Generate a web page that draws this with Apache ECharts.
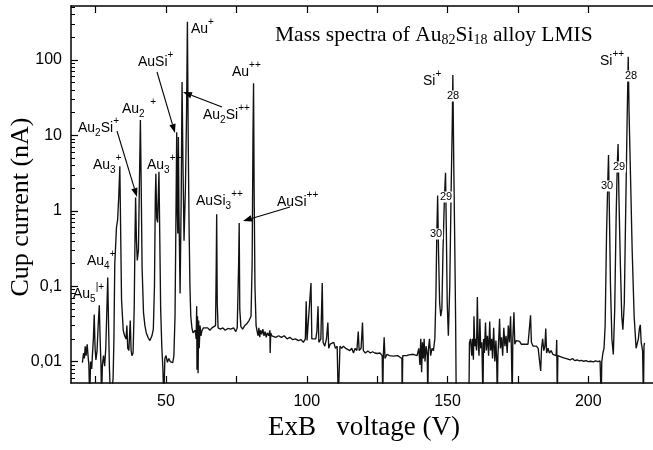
<!DOCTYPE html>
<html>
<head>
<meta charset="utf-8">
<script src="https://cdn.jsdelivr.net/npm/echarts@6/dist/echarts.min.js"></script>
<style>
  html, body { margin: 0; padding: 0; background: #fff; }
  #main { width: 653px; height: 450px; }
</style>
</head>
<body>
<div id="main"></div>
<script>
// ExB voltage (V) and cup current (nA)
const voltage = [
  20.3, 20.7, 21.0, 21.3, 21.6, 22.0, 22.3, 22.6, 22.9, 23.2,
  23.6, 23.9, 24.2, 24.5, 24.8, 25.1, 25.5, 25.9, 26.3, 26.6,
  26.9, 27.1, 27.4, 27.8, 28.2, 28.6, 29.0, 29.3, 29.6, 29.9,
  30.3, 30.8, 31.2, 31.5, 31.8, 32.1, 32.4, 32.8, 33.2, 33.6,
  33.9, 34.2, 34.8, 35.3, 35.8, 36.1, 36.4, 36.8, 37.3, 37.6,
  37.9, 38.3, 38.7, 39.0, 39.2, 39.5, 39.8, 40.2, 40.6, 40.9,
  41.2, 41.5, 42.0, 42.5, 43.0, 43.6, 44.3, 45.0, 45.5, 45.9,
  46.2, 46.4, 46.7, 47.0, 47.3, 47.5, 47.8, 48.1, 48.5, 48.9,
  49.2, 49.6, 50.0, 50.5, 51.0, 51.5, 52.0, 52.4, 52.8, 53.2,
  53.5, 53.8, 54.0, 54.2, 54.4, 54.6, 55.0, 55.4, 55.7, 56.0,
  56.4, 56.9, 57.3, 57.6, 57.9, 58.2, 58.5, 58.8, 59.2, 59.6,
  60.0, 60.4, 60.7, 60.9, 61.0, 61.2, 61.4, 61.6, 61.8, 62.1,
  62.4, 62.8, 63.3, 64.0, 64.8, 65.6, 66.3, 67.0, 67.6, 67.85,
  68.0, 68.2, 68.5, 69.3, 70.2, 71.0, 72.0, 73.0, 74.0, 74.8,
  75.3, 75.8, 76.0, 76.2, 76.6, 77.2, 78.0, 78.8, 79.5, 80.2,
  80.6, 80.9, 81.1, 81.3, 81.6, 82.0, 82.3, 82.7, 83.0, 83.3,
  83.6, 84.0, 84.4, 84.8, 85.2, 85.6, 86.0, 86.5, 86.9, 87.0,
  87.2, 87.6, 88.2, 89.0, 90.0, 91.0, 92.0, 93.0, 94.0, 95.0,
  96.0, 97.0, 98.0, 98.8, 99.5, 99.8, 100.1, 100.8, 101.5, 101.8,
  102.5, 103.2, 103.6, 104.0, 104.3, 105.0, 105.5, 105.8, 106.4, 107.0,
  107.5, 107.8, 108.3, 109.0, 109.6, 110.2, 110.8, 111.2, 111.5, 111.8,
  112.4, 113.0, 113.8, 114.5, 115.3, 116.0, 116.6, 117.2, 117.8, 118.3,
  118.6, 119.3, 119.8, 120.1, 120.8, 121.7, 122.6, 123.4, 124.2, 125.0,
  126.0, 126.8, 127.0, 127.2, 127.5, 127.8, 128.5, 129.3, 130.0, 130.8,
  131.5, 132.3, 133.0, 133.8, 133.9, 134.1, 134.8, 135.5, 136.3, 137.0,
  137.8, 138.5, 139.2, 139.8, 140.2, 140.5, 140.8, 141.1, 141.4, 141.7,
  142.0, 142.4, 142.8, 143.0, 143.2, 143.6, 144.0, 144.5, 145.0, 145.5,
  145.9, 146.2, 146.5, 146.8, 147.2, 147.6, 148.0, 148.4, 148.9, 149.3,
  149.6, 149.9, 150.3, 150.8, 151.3, 151.7, 151.9, 152.2, 152.6, 152.9,
  153.1, 157.6, 157.8, 158.2, 158.6, 158.9, 159.2, 159.4, 159.7, 160.0,
  160.3, 160.6, 160.9, 161.2, 161.5, 161.8, 162.2, 162.6, 162.8, 163.1,
  163.5, 163.8, 164.2, 164.6, 165.0, 165.3, 165.7, 166.0, 166.4, 166.8,
  167.2, 167.5, 167.7, 167.9, 168.2, 168.5, 168.8, 169.2, 169.6, 170.0,
  170.4, 170.8, 171.2, 171.6, 172.0, 172.4, 172.7, 173.0, 173.2, 173.6,
  173.9, 174.4, 175.0, 175.6, 176.2, 176.8, 177.4, 178.0, 178.6, 179.2,
  179.5, 179.8, 180.4, 181.0, 181.6, 182.2, 182.8, 183.1, 183.4, 183.8,
  184.2, 184.6, 184.9, 185.2, 185.7, 186.2, 186.8, 187.4, 188.0, 188.6,
  188.8, 189.0, 189.2, 189.8, 190.5, 191.3, 192.0, 192.8, 193.6, 194.4,
  195.2, 196.0, 196.8, 197.6, 198.4, 199.2, 200.0, 200.9, 201.8, 202.6,
  203.4, 204.2, 204.6, 204.8, 205.2, 205.6, 206.0, 206.5, 207.0, 207.2,
  207.5, 207.9, 208.4, 208.9, 209.4, 209.9, 210.3, 210.6, 210.9, 211.4,
  211.9, 212.3, 212.8, 213.3, 213.8, 214.2, 214.5, 215.0, 215.6, 216.3,
  217.0, 217.3, 217.8, 218.2, 218.5, 218.8, 219.3, 219.6, 219.8, 220.0
];
const current = [
  0.0097, 0.013, 0.011, 0.016, 0.012, 0.017, 0.012, 0.009, 0.003, 0.010,
  0.008, 0.013, 0.02, 0.042, 0.015, 0.0105, 0.014, 0.03, 0.056, 0.02,
  0.009, 0.003, 0.009, 0.012, 0.0087, 0.015, 0.05, 0.13, 0.03, 0.0083,
  0.003, 0.004, 0.006, 0.02, 0.2, 0.34, 0.6, 0.75, 1.5, 3.9,
  0.5, 0.067, 0.026, 0.022, 0.02, 0.03, 0.015, 0.014, 0.035, 0.014,
  0.012, 0.013, 0.05, 0.5, 1.5, 0.4, 0.22, 0.3, 3, 16,
  2, 0.18, 0.045, 0.03, 0.024, 0.021, 0.019, 0.022, 0.027, 0.1,
  1.5, 3.1, 0.8, 0.7, 1.8, 3.3, 0.4, 0.05, 0.016, 0.008,
  0.003, 0.011, 0.012, 0.0098, 0.011, 0.010, 0.0105, 0.0097, 0.012, 0.04,
  0.6, 11, 1, 0.5, 9.5, 1, 0.08, 1.5, 51, 5,
  0.4, 2, 20, 321, 8, 0.6, 0.1, 0.04, 0.028, 0.024,
  0.023, 0.026, 0.02, 0.054, 0.0078, 0.04, 0.007, 0.035, 0.015, 0.03,
  0.022, 0.026, 0.028, 0.027, 0.028, 0.026, 0.028, 0.027, 0.03, 0.2,
  0.9, 0.06, 0.028, 0.027, 0.028, 0.026, 0.0275, 0.027, 0.028, 0.025,
  0.028, 0.2, 0.69, 0.05, 0.029, 0.027, 0.03, 0.032, 0.035, 0.04,
  0.2, 10, 49, 2, 0.1, 0.03, 0.026, 0.022, 0.028, 0.021,
  0.026, 0.023, 0.027, 0.022, 0.025, 0.021, 0.024, 0.022, 0.026, 0.013,
  0.024, 0.022, 0.023, 0.021, 0.022, 0.021, 0.022, 0.02, 0.021, 0.0195,
  0.02, 0.019, 0.0195, 0.018, 0.02, 0.063, 0.019, 0.02, 0.11, 0.02,
  0.019, 0.02, 0.025, 0.054, 0.018, 0.02, 0.11, 0.018, 0.016, 0.02,
  0.033, 0.015, 0.017, 0.016, 0.018, 0.015, 0.016, 0.003, 0.003, 0.016,
  0.015, 0.016, 0.015, 0.0155, 0.014, 0.015, 0.013, 0.015, 0.014, 0.025,
  0.014, 0.015, 0.033, 0.014, 0.013, 0.0138, 0.013, 0.0135, 0.013, 0.0128,
  0.013, 0.012, 0.003, 0.012, 0.021, 0.011, 0.0125, 0.012, 0.0124, 0.0118,
  0.0125, 0.012, 0.0122, 0.011, 0.003, 0.012, 0.0125, 0.012, 0.0123, 0.0118,
  0.0125, 0.0118, 0.012, 0.015, 0.009, 0.02, 0.0072, 0.018, 0.011, 0.02,
  0.01, 0.016, 0.012, 0.003, 0.014, 0.02, 0.012, 0.015, 0.014, 0.02,
  0.08, 0.5, 1.6, 0.3, 0.06, 0.04, 0.05, 0.3, 1.5, 3.2,
  0.5, 0.06, 0.022, 0.1, 2, 15, 63, 5, 0.3, 0.03,
  0.003, 0.003, 0.018, 0.02, 0.012, 0.02, 0.0106, 0.04, 0.016, 0.02,
  0.014, 0.072, 0.017, 0.012, 0.037, 0.015, 0.018, 0.003, 0.02, 0.013,
  0.033, 0.014, 0.022, 0.012, 0.034, 0.014, 0.02, 0.011, 0.028, 0.01,
  0.019, 0.009, 0.003, 0.012, 0.02, 0.037, 0.015, 0.021, 0.012, 0.028,
  0.016, 0.022, 0.013, 0.03, 0.018, 0.04, 0.014, 0.003, 0.02, 0.045,
  0.017, 0.019, 0.018, 0.0185, 0.017, 0.0175, 0.017, 0.0165, 0.017, 0.016,
  0.041, 0.018, 0.016, 0.0155, 0.016, 0.015, 0.0155, 0.0075, 0.015, 0.02,
  0.014, 0.016, 0.0275, 0.013, 0.015, 0.013, 0.014, 0.0125, 0.013, 0.012,
  0.0194, 0.003, 0.012, 0.0118, 0.0115, 0.0112, 0.011, 0.0108, 0.0105, 0.011,
  0.0103, 0.0105, 0.0102, 0.0104, 0.0101, 0.0103, 0.01, 0.0101, 0.0099, 0.0102,
  0.01, 0.0102, 0.003, 0.01, 0.013, 0.015, 0.03, 0.5, 3, 5.5,
  1, 0.1, 0.02, 0.0124, 0.05, 0.8, 4, 7.7, 1.5, 0.2,
  0.04, 0.0265, 0.06, 1, 15, 110, 20, 3, 0.3, 0.04,
  0.015, 0.0143, 0.02, 0.028, 0.0307, 0.018, 0.014, 0.003, 0.016, 0.0177
];

// axis ticks and labels
const xTicks = [25, 50, 75, 100, 125, 150, 175, 200];
const xLabels = [50, 100, 150, 200];
const yLabels = [0.01, 0.1, 1, 10, 100];
const yMinorTicks = [
  0.006, 0.007, 0.008, 0.009,
  0.02, 0.03, 0.04, 0.05, 0.06, 0.07, 0.08, 0.09,
  0.2, 0.3, 0.4, 0.5, 0.6, 0.7, 0.8, 0.9,
  2, 3, 4, 5, 6, 7, 8, 9,
  20, 30, 40, 50, 60, 70, 80, 90,
  200, 300, 400, 500
];

// ion annotations: [text, 'b' = subscript, 'p' = superscript]
const ionLabels = [
  { x: 191, y: 29, parts: [['Au'], ['+', 'p']] },
  { x: 138, y: 62, parts: [['AuSi'], ['+', 'p']] },
  { x: 232, y: 72, parts: [['Au'], ['++', 'p']] },
  { x: 122, y: 109, parts: [['Au'], ['2', 'b'], ['  +', 'p']] },
  { x: 78, y: 128, parts: [['Au'], ['2', 'b'], ['Si'], ['+', 'p']] },
  { x: 203, y: 115, parts: [['Au'], ['2', 'b'], ['Si'], ['++', 'p']] },
  { x: 93, y: 165, parts: [['Au'], ['3', 'b'], ['+', 'p']] },
  { x: 147, y: 165, parts: [['Au'], ['3', 'b'], ['++', 'p']] },
  { x: 196, y: 201, parts: [['AuSi'], ['3', 'b'], ['++', 'p']] },
  { x: 277, y: 202, parts: [['AuSi'], ['++', 'p']] },
  { x: 87, y: 261, parts: [['Au'], ['4', 'b'], ['+', 'p']] },
  { x: 73, y: 294, parts: [['Au'], ['5', 'b'], ['|+', 'p']] },
  { x: 423, y: 81, parts: [['Si'], ['+', 'p']] },
  { x: 600, y: 61, parts: [['Si'], ['++', 'p']] }
];
// Si isotope marks
const isoLabels = [
  { t: '28', x: 453, y: 96 }, { t: '29', x: 446, y: 197 }, { t: '30', x: 436, y: 234 },
  { t: '28', x: 631, y: 76 }, { t: '29', x: 619, y: 167 }, { t: '30', x: 607, y: 186 }
];
const arrows = [
  [157, 72, 175, 133],
  [222, 107, 183, 92],
  [117, 131, 137, 197],
  [290, 207, 243, 221]
];

const SANS = '"Liberation Sans", Arial, sans-serif';
const SERIF = '"Liberation Serif", "Times New Roman", serif';

const ctx = document.createElement('canvas').getContext('2d');
function textWidth(t, size, family) {
  ctx.font = size + 'px ' + family;
  return ctx.measureText(t).width;
}

// text with sub/superscripts, x = left, y = middle of the main text
function richText(x, y, parts, size, family, small, subDy, supDy) {
  const out = [];
  let cx = x;
  parts.forEach(function (p) {
    const kind = p[1];
    const fs = kind ? small : size;
    const dy = kind === 'b' ? subDy : kind === 'p' ? supDy : 0;
    out.push({
      type: 'text', x: cx, y: y + dy, z: 100,
      style: { text: p[0], fontSize: fs, fontFamily: family, fill: '#000', align: 'left', verticalAlign: 'middle' }
    });
    cx += textWidth(p[0], fs, family);
  });
  return out;
}

function arrow(x1, y1, x2, y2) {
  const a = Math.atan2(y2 - y1, x2 - x1), L = 9, W = 3.2;
  const bx = x2 - L * Math.cos(a), by = y2 - L * Math.sin(a);
  return [
    { type: 'line', z: 100, shape: { x1: x1, y1: y1, x2: bx, y2: by }, style: { stroke: '#000', lineWidth: 1.1 } },
    { type: 'polygon', z: 100, shape: { points: [[x2, y2], [bx + W * Math.sin(a), by - W * Math.cos(a)], [bx - W * Math.sin(a), by + W * Math.cos(a)]] }, style: { fill: '#000' } }
  ];
}

let graphics = [];
// title
graphics = graphics.concat(richText(275, 35,
  [['Mass spectra of Au'], ['82', 'b'], ['Si'], ['18', 'b'], [' alloy LMIS']], 21.5, SERIF, 14, 5, -6));
// axis titles
graphics.push({ type: 'text', x: 364, y: 428, z: 100,
  style: { text: 'ExB   voltage (V)', fontSize: 27, fontFamily: SERIF, fill: '#000', align: 'center', verticalAlign: 'middle' } });
graphics.push({ type: 'text', x: 21, y: 207, rotation: Math.PI / 2, z: 100,
  style: { text: 'Cup current (nA)', fontSize: 26, fontFamily: SERIF, fill: '#000', align: 'center', verticalAlign: 'middle' } });
ionLabels.forEach(function (l) {
  graphics = graphics.concat(richText(l.x, l.y, l.parts, 14, SANS, 10, 5, -7));
});
isoLabels.forEach(function (l) {
  graphics.push({ type: 'text', x: l.x, y: l.y, z: 100,
    style: { text: l.t, fontSize: 11, fontFamily: SANS, fill: '#000', align: 'center', verticalAlign: 'middle',
      backgroundColor: '#fff', padding: [0, 1] } });
});
arrows.forEach(function (a) { graphics = graphics.concat(arrow(a[0], a[1], a[2], a[3])); });

const axisLine = { show: true, lineStyle: { color: '#000', width: 1.5 } };
const option = {
  animation: false,
  grid: [
    { left: 71, right: 0, top: 6, bottom: 67 },
    { left: 71, right: 0, top: 6, bottom: 67 }
  ],
  xAxis: [
    {
      type: 'value', gridIndex: 0, position: 'bottom', min: 16.25, max: 223,
      axisLine: axisLine,
      axisTick: { inside: true, length: 7, customValues: xTicks, lineStyle: { color: '#000', width: 1.2 } },
      axisLabel: { customValues: xLabels, color: '#000', fontSize: 16, fontFamily: SANS, margin: 11 },
      splitLine: { show: false }
    },
    {
      type: 'value', gridIndex: 0, position: 'top', min: 16.25, max: 223,
      axisLine: axisLine,
      axisTick: { inside: true, length: 7, customValues: xTicks, lineStyle: { color: '#000', width: 1.2 } },
      axisLabel: { show: false },
      splitLine: { show: false }
    },
    { type: 'value', gridIndex: 1, min: 16.25, max: 223, show: false }
  ],
  yAxis: [
    {
      type: 'log', gridIndex: 0, min: 0.0052, max: 520,
      axisLine: axisLine,
      axisTick: { inside: true, length: 7, customValues: yLabels, lineStyle: { color: '#000', width: 1.2 } },
      axisLabel: {
        customValues: yLabels, color: '#000', fontSize: 16, fontFamily: SANS, margin: 9,
        formatter: function (v) { return String(v).replace('.', ','); }
      },
      splitLine: { show: false }
    },
    {
      type: 'log', gridIndex: 1, min: 0.0052, max: 520,
      axisLine: { show: false },
      axisTick: { inside: true, length: 4, customValues: yMinorTicks, lineStyle: { color: '#000', width: 1 } },
      axisLabel: { show: false },
      splitLine: { show: false }
    }
  ],
  series: [
    {
      type: 'line', xAxisIndex: 0, yAxisIndex: 0,
      data: voltage.map(function (v, k) { return [v, current[k]]; }),
      showSymbol: false, symbol: 'none', clip: true,
      lineStyle: { color: '#111', width: 1.35 }
    }
  ],
  graphic: graphics
};

const myChart = echarts.init(document.getElementById('main'));
myChart.setOption(option);
</script>
</body>
</html>
